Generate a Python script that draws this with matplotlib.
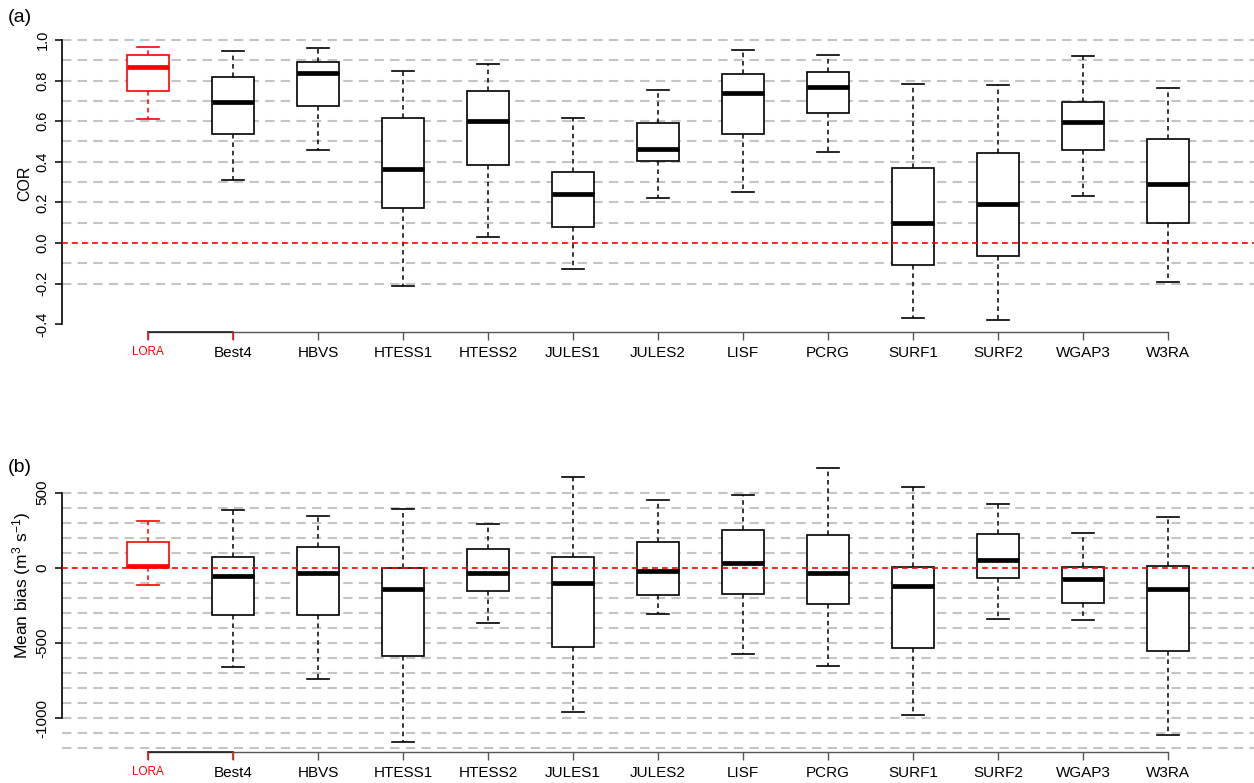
import matplotlib
matplotlib.use("Agg")
import matplotlib.pyplot as plt
import numpy as np

plt.rcParams["font.family"] = ["Liberation Sans", "DejaVu Sans"]
plt.rcParams["mathtext.fontset"] = "custom"
plt.rcParams["mathtext.rm"] = "Liberation Sans"
plt.rcParams["mathtext.it"] = "Liberation Sans"

models = ["LORA", "Best4", "HBVS", "HTESS1", "HTESS2", "JULES1", "JULES2",
          "LISF", "PCRG", "SURF1", "SURF2", "WGAP3", "W3RA"]

# (a) correlation
cor_whislo = [0.61, 0.31, 0.46, -0.21, 0.03, -0.13, 0.22, 0.25, 0.45, -0.37, -0.38, 0.23, -0.19]
cor_q1 = [0.75, 0.535, 0.675, 0.175, 0.385, 0.077, 0.405, 0.535, 0.64, -0.11, -0.065, 0.46, 0.10]
cor_med = [0.865, 0.693, 0.836, 0.365, 0.603, 0.241, 0.465, 0.741, 0.770, 0.097, 0.194, 0.596, 0.292]
cor_q3 = [0.926, 0.819, 0.89, 0.617, 0.749, 0.35, 0.591, 0.833, 0.841, 0.369, 0.442, 0.696, 0.512]
cor_whishi = [0.965, 0.947, 0.959, 0.847, 0.88, 0.617, 0.755, 0.952, 0.928, 0.782, 0.78, 0.921, 0.762]

# (b) mean bias
bias_whislo = [-115, -661, -741, -1158, -366, -962, -306, -576, -654, -982, -339, -350, -1113]
bias_q1 = [7, -313, -317, -585, -153, -530, -182, -175, -242, -532, -71, -237, -552]
bias_med = [14, -53, -37, -142, -37, -100, -24, 29, -37, -120, 49, -75, -142]
bias_q3 = [171, 73, 140, -4, 124, 69, 173, 251, 215, 2, 222, 7, 11]
bias_whishi = [309, 382, 342, 389, 293, 601, 450, 484, 663, 535, 422, 233, 337]

cor_ticks = [-0.4, -0.2, 0.0, 0.2, 0.4, 0.6, 0.8, 1.0]
cor_grid = [round(v, 1) for v in np.arange(-0.2, 1.01, 0.1)]
bias_ticks = [-1000, -500, 0, 500]
bias_grid = list(range(-1200, 501, 100))

W, H = 1254, 783
fig = plt.figure(figsize=(W / 100, H / 100), dpi=100)


def px_axes(left, top, right, bottom):
    return fig.add_axes([left / W, 1 - bottom / H, (right - left) / W, (bottom - top) / H])


def draw_panel(ax, lo, q1, med, q3, hi, ylim, yticks, ytlabels, ybounds, grid, ytsize):
    pos = np.arange(1, len(models) + 1)
    stats = []
    for i in range(len(models)):
        stats.append(dict(whislo=lo[i], q1=q1[i], med=med[i], q3=q3[i], whishi=hi[i], fliers=[]))
    art = ax.bxp(stats, positions=pos, widths=0.5, capwidths=0.25, patch_artist=True,
                 showfliers=False,
                 boxprops=dict(facecolor="white", edgecolor="black", linewidth=1.2),
                 medianprops=dict(color="black", linewidth=3.4, solid_capstyle="butt"),
                 whiskerprops=dict(color="black", linewidth=1.1, linestyle=(0, (3, 2.5))),
                 capprops=dict(color="black", linewidth=1.2))
    for k in ["boxes", "medians", "whiskers", "caps"]:
        for a in art[k]:
            a.set_zorder(3)
            a.set_clip_on(False)
    art["boxes"][0].set_edgecolor("red")
    art["medians"][0].set_color("red")
    for a in art["whiskers"][0:2] + art["caps"][0:2]:
        a.set_color("red")

    for g in grid:
        if g == 0:
            continue
        ax.axhline(g, color="#c4c4c4", lw=1.5, ls=(0, (4.5, 3)), zorder=1)
    ax.axhline(0, color="red", lw=1.2, ls=(0, (3.5, 2.5)), zorder=4)

    ax.set_xlim(-0.012, 14.012)
    ax.set_ylim(*ylim)
    for s in ["top", "right"]:
        ax.spines[s].set_visible(False)
    ax.spines["left"].set_bounds(*ybounds)
    ax.spines["left"].set_linewidth(1.2)
    ax.spines["bottom"].set_bounds(1, len(models))
    ax.spines["bottom"].set_color("#555555")
    ax.spines["bottom"].set_linewidth(1.0)
    xt = ax.get_xaxis_transform()
    ax.plot([1, 2], [0, 0], color="#222222", lw=1.2, transform=xt, clip_on=False, zorder=5)
    # red ticks for the first two positions
    ax.plot(pos[:2], [0, 0], ls="none", marker=3, markersize=6, mew=1.2, color="#e0201a",
            transform=xt, clip_on=False, zorder=6)

    ax.set_yticks(yticks)
    ax.set_yticklabels(ytlabels, rotation=90, va="center", fontsize=ytsize)
    ax.tick_params(axis="y", length=5, width=1.1, pad=4)
    ax.set_xticks(pos)
    ax.set_xticklabels(models, fontsize=11)
    ax.tick_params(axis="x", length=6, width=1.0, color="#555555", pad=4)
    lab = ax.get_xticklabels()[0]
    lab.set_color("red")
    lab.set_fontsize(8.5)


# panel (a)
ax1 = px_axes(62, 30, 1254, 332)
draw_panel(ax1, cor_whislo, cor_q1, cor_med, cor_q3, cor_whishi,
           ylim=(-0.438, 1.049), yticks=cor_ticks,
           ytlabels=["-0.4", "-0.2", "0.0", "0.2", "0.4", "0.6", "0.8", "1.0"],
           ybounds=(-0.4, 1.0), grid=cor_grid, ytsize=10.5)

# panel (b)
ax2 = px_axes(62, 462.5, 1254, 752.3)
draw_panel(ax2, bias_whislo, bias_q1, bias_med, bias_q3, bias_whishi,
           ylim=(-1228, 700), yticks=bias_ticks,
           ytlabels=["-1000", "-500", "0", "500"],
           ybounds=(-1000, 500), grid=bias_grid, ytsize=11)

fig.text(25 / W, 1 - 183 / H, "COR", rotation=90, ha="center", va="center", fontsize=11.5)
fig.text(22 / W, 1 - 585 / H, r"Mean bias (m$^{3}$ s$^{-1}$)", rotation=90,
         ha="center", va="center", fontsize=12.5)
fig.text(8 / W, 1 - 17 / H, "(a)", ha="left", va="center", fontsize=14)
fig.text(8 / W, 1 - 467 / H, "(b)", ha="left", va="center", fontsize=14)

fig.savefig("out.png", dpi=100)
